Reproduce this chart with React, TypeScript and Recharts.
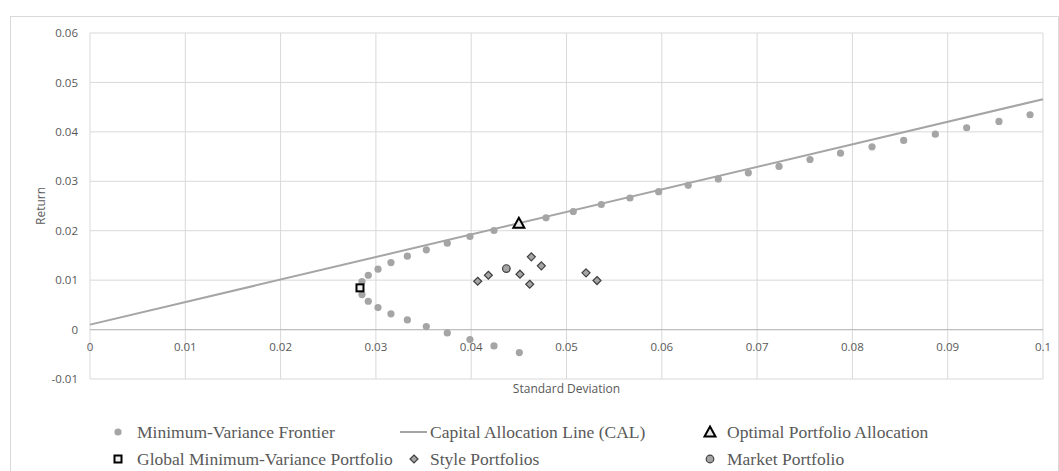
import React from 'react';
import {
    ScatterChart,
    Scatter,
    XAxis,
    YAxis,
    CartesianGrid,
    ReferenceLine,
} from 'recharts';

// values (standard deviation, return)
const FRONTIER = [
    { x: 0.04505, y: -0.00466 },
    { x: 0.04239, y: -0.0033 },
    { x: 0.03987, y: -0.00202 },
    { x: 0.03749, y: -0.00067 },
    { x: 0.03529, y: 0.00061 },
    { x: 0.0333, y: 0.00196 },
    { x: 0.03158, y: 0.00318 },
    { x: 0.03022, y: 0.00445 },
    { x: 0.0292, y: 0.00573 },
    { x: 0.02854, y: 0.00709 },
    { x: 0.02833, y: 0.00844 },
    { x: 0.02854, y: 0.00972 },
    { x: 0.0292, y: 0.01099 },
    { x: 0.03022, y: 0.01221 },
    { x: 0.03158, y: 0.01356 },
    { x: 0.0333, y: 0.01484 },
    { x: 0.03529, y: 0.01613 },
    { x: 0.03749, y: 0.01747 },
    { x: 0.03987, y: 0.01883 },
    { x: 0.04239, y: 0.02004 },
    { x: 0.0451, y: 0.02135 },
    { x: 0.04785, y: 0.02261 },
    { x: 0.05071, y: 0.02389 },
    { x: 0.05365, y: 0.0253 },
    { x: 0.05666, y: 0.02662 },
    { x: 0.05967, y: 0.0279 },
    { x: 0.06277, y: 0.02919 },
    { x: 0.06593, y: 0.03047 },
    { x: 0.06908, y: 0.03172 },
    { x: 0.0723, y: 0.033 },
    { x: 0.07555, y: 0.03441 },
    { x: 0.07875, y: 0.03569 },
    { x: 0.08206, y: 0.03698 },
    { x: 0.08538, y: 0.03826 },
    { x: 0.0887, y: 0.03953 },
    { x: 0.09199, y: 0.04083 },
    { x: 0.09538, y: 0.04211 },
    { x: 0.09864, y: 0.04346 },
];

const CAL = [
    { x: 0, y: 0.001 },
    { x: 0.1, y: 0.0466 },
];

const OPTIMAL = [{ x: 0.045, y: 0.0215 }];
const GMV = [{ x: 0.02833, y: 0.00844 }];
const MARKET = [{ x: 0.04369, y: 0.01235 }];

const STYLE = [
    { x: 0.04068, y: 0.00978 },
    { x: 0.0418, y: 0.01099 },
    { x: 0.04512, y: 0.0112 },
    { x: 0.04631, y: 0.01472 },
    { x: 0.04736, y: 0.01289 },
    { x: 0.04614, y: 0.00917 },
    { x: 0.05205, y: 0.01148 },
    { x: 0.0532, y: 0.00992 },
];

const X_TICKS = [0, 0.01, 0.02, 0.03, 0.04, 0.05, 0.06, 0.07, 0.08, 0.09, 0.1];
const Y_TICKS = [-0.01, 0, 0.01, 0.02, 0.03, 0.04, 0.05, 0.06];

const W = 1059;
const H = 471;
const MARGIN = { top: 33, right: 16, left: 10, bottom: 62 };
const X_AXIS_H = 30;
const PLOT_H = H - MARGIN.top - MARGIN.bottom - X_AXIS_H;
const Y_MIN = Y_TICKS[0];
const Y_MAX = Y_TICKS[Y_TICKS.length - 1];
const ZERO_Y = MARGIN.top + (Y_MAX / (Y_MAX - Y_MIN)) * PLOT_H;

const GREY = '#a5a5a5';
const DARK = '#404040';
const TEXT = '#595959';
const SANS = '"Open Sans", sans-serif';
const SERIF = '"Liberation Serif", "Times New Roman", serif';

// x labels sit under the zero line, as in the reference
const XTick = (props: any) => {
    const { x, payload } = props;
    return (
        <text x={x} y={ZERO_Y + 21} textAnchor="middle" fill={TEXT} fontSize={11.5} fontFamily={SANS}>
            {String(payload.value)}
        </text>
    );
};

const dot = (r: number, fill: string, stroke?: string) => (p: any) => (
    <circle cx={p.cx} cy={p.cy} r={r} fill={fill} stroke={stroke || 'none'} strokeWidth={1.2} />
);

const diamond = (p: any) => {
    const s = 4;
    return (
        <path
            d={`M${p.cx},${p.cy - s}L${p.cx + s},${p.cy}L${p.cx},${p.cy + s}L${p.cx - s},${p.cy}Z`}
            fill={GREY}
            stroke={DARK}
            strokeWidth={1.2}
        />
    );
};

const square = (p: any) => (
    <rect x={p.cx - 3.5} y={p.cy - 3.5} width={7} height={7} fill="#efefef" stroke="#000" strokeWidth={2} />
);

const triangle = (p: any) => (
    <path
        d={`M${p.cx},${p.cy - 5.5}L${p.cx + 5.5},${p.cy + 4.5}L${p.cx - 5.5},${p.cy + 4.5}Z`}
        fill="#e8e8e8"
        stroke="#000"
        strokeWidth={2}
        strokeLinejoin="miter"
    />
);

const LegendMarker = ({ kind }: { kind: string }) => {
    const c = { cx: 8, cy: 8 };
    let el: React.ReactNode = null;
    if (kind === 'frontier') el = dot(3.6, GREY)(c);
    if (kind === 'cal') el = <line x1={0} y1={8} x2={27} y2={8} stroke={GREY} strokeWidth={2} />;
    if (kind === 'optimal') el = triangle(c);
    if (kind === 'gmv') el = square(c);
    if (kind === 'style') el = diamond(c);
    if (kind === 'market') el = dot(3.8, GREY, DARK)(c);
    return (
        <svg width={kind === 'cal' ? 28 : 16} height={16} style={{ display: 'block' }}>
            {el}
        </svg>
    );
};

const LEGEND = [
    { kind: 'frontier', label: 'Minimum-Variance Frontier', mx: 110, tx: 137, cy: 432 },
    { kind: 'cal', label: 'Capital Allocation Line (CAL)', mx: 400, tx: 430, cy: 432 },
    { kind: 'optimal', label: 'Optimal Portfolio Allocation', mx: 702, tx: 727, cy: 432 },
    { kind: 'gmv', label: 'Global Minimum-Variance Portfolio', mx: 110, tx: 137, cy: 459 },
    { kind: 'style', label: 'Style Portfolios', mx: 406, tx: 430, cy: 459 },
    { kind: 'market', label: 'Market Portfolio', mx: 702, tx: 727, cy: 459 },
];

export default function App() {
    return (
        <div style={{ position: 'absolute', left: 0, top: 0, width: W, height: H, background: '#fff', overflow: 'hidden' }}>
            <div
                style={{
                    position: 'absolute',
                    left: 10,
                    top: 16,
                    width: 1047,
                    height: 470,
                    border: '1px solid #d9d9d9',
                }}
            />
            <ScatterChart width={W} height={H} margin={MARGIN}>
                <CartesianGrid stroke="#d9d9d9" strokeWidth={1} />
                <XAxis
                    type="number"
                    dataKey="x"
                    domain={[0, 0.1]}
                    ticks={X_TICKS}
                    interval={0}
                    height={X_AXIS_H}
                    tick={<XTick />}
                    tickLine={false}
                    axisLine={false}
                    label={{
                        content: (p: any) => (
                            <text
                                x={p.viewBox.x + p.viewBox.width / 2}
                                y={p.viewBox.y + 14}
                                textAnchor="middle"
                                fill={TEXT}
                                fontSize={12}
                                fontFamily={SANS}
                            >
                                Standard Deviation
                            </text>
                        ),
                    }}
                />
                <YAxis
                    type="number"
                    dataKey="y"
                    domain={[Y_MIN, Y_MAX]}
                    ticks={Y_TICKS}
                    interval={0}
                    width={80}
                    tickSize={0}
                    tickMargin={12}
                    tickLine={false}
                    axisLine={false}
                    tick={{ fill: TEXT, fontSize: 11.5, fontFamily: SANS }}
                    tickFormatter={(v: number) => String(v)}
                    label={{
                        content: (p: any) => (
                            <text
                                transform={`translate(${p.viewBox.x + 30},${p.viewBox.y + p.viewBox.height / 2}) rotate(-90)`}
                                textAnchor="middle"
                                dominantBaseline="central"
                                fill={TEXT}
                                fontSize={12}
                                fontFamily={SANS}
                            >
                                Return
                            </text>
                        ),
                    }}
                />
                <ReferenceLine y={0} stroke="#bfbfbf" strokeWidth={1.3} />
                <Scatter
                    name="Capital Allocation Line (CAL)"
                    data={CAL}
                    line={{ stroke: GREY, strokeWidth: 2 }}
                    shape={() => null}
                    isAnimationActive={false}
                />
                <Scatter name="Minimum-Variance Frontier" data={FRONTIER} shape={dot(3.6, GREY)} isAnimationActive={false} />
                <Scatter name="Style Portfolios" data={STYLE} shape={diamond} isAnimationActive={false} />
                <Scatter name="Market Portfolio" data={MARKET} shape={dot(3.8, GREY, DARK)} isAnimationActive={false} />
                <Scatter name="Global Minimum-Variance Portfolio" data={GMV} shape={square} isAnimationActive={false} />
                <Scatter name="Optimal Portfolio Allocation" data={OPTIMAL} shape={triangle} isAnimationActive={false} />
            </ScatterChart>
            {LEGEND.map((item) => (
                <React.Fragment key={item.kind}>
                    <div style={{ position: 'absolute', left: item.mx, top: item.cy - 8 }}>
                        <LegendMarker kind={item.kind} />
                    </div>
                    <div
                        style={{
                            position: 'absolute',
                            left: item.tx,
                            top: item.cy - 11,
                            lineHeight: '22px',
                            fontSize: 17.5,
                            fontFamily: SERIF,
                            color: TEXT,
                            whiteSpace: 'nowrap',
                        }}
                    >
                        {item.label}
                    </div>
                </React.Fragment>
            ))}
        </div>
    );
}
